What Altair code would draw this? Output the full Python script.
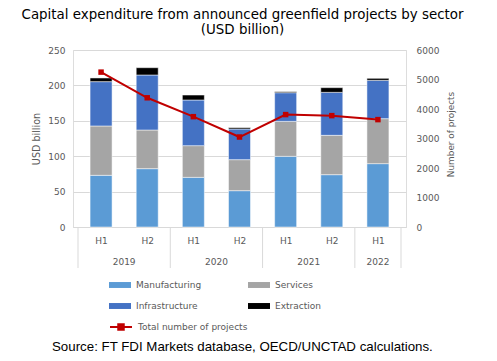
import json
import altair as alt
import numpy as np
import pandas as pd

# ---- data ----
years = ["2019", "2019", "2020", "2020", "2021", "2021", "2022"]
halves = ["H1", "H2", "H1", "H2", "H1", "H2", "H1"]
sectors = ["Manufacturing", "Services", "Infrastructure", "Extraction"]
manufacturing = [73.0, 82.4, 70.1, 51.3, 99.8, 73.9, 89.5]
services = [69.7, 54.6, 44.8, 43.8, 49.4, 55.6, 63.5]
infrastructure = [62.6, 77.7, 64.5, 43.3, 40.5, 60.7, 54.2]
extraction = [5.2, 10.3, 7.0, 1.9, 1.4, 6.6, 2.8]
projects = [5250, 4380, 3740, 3050, 3810, 3775, 3640]
line_name = ["Total number of projects"]
title_lines = ["Capital expenditure from announced greenfield projects by sector", "(USD billion)"]
source_note = ["Source: FT FDI Markets database, OECD/UNCTAD calculations."]
left_ticks = [0, 50, 100, 150, 200, 250]
right_ticks = [0, 1000, 2000, 3000, 4000, 5000, 6000]

sector_colors = ["#5B9BD5", "#A5A5A5", "#4472C4", "#000000"]
line_color = "#C00000"
grid_color = "#D9D9D9"
label_color = "#595959"
FONT = "DejaVu Sans"

# ---- tables ----
idx = list(range(len(years)))
rows = []
for k, (s, vals) in enumerate(zip(sectors, [manufacturing, services, infrastructure, extraction])):
    for i, v in zip(idx, vals):
        rows.append({"idx": i, "sector": s, "order": k, "value": v})
bars_df = pd.DataFrame(rows)
line_df = pd.DataFrame({"idx": idx, "projects": projects, "series": line_name * len(idx)})

year_names = list(dict.fromkeys(years))
year_pos = [[i for i, y in zip(idx, years) if y == yn] for yn in year_names]
year_df = pd.DataFrame({"year": year_names, "mid": [float(np.mean(p)) for p in year_pos]})
bounds = sorted(set([min(p) - 0.5 for p in year_pos] + [max(p) + 0.5 for p in year_pos]))
bound_df = pd.DataFrame({"b": bounds})
source_df = pd.DataFrame({"t": source_note})

xscale = alt.Scale(domain=[-0.5, len(idx) - 0.5], nice=False, zero=False)
label_expr = json.dumps(halves) + "[datum.value]"

bars = alt.Chart(bars_df).mark_bar(size=22, stroke="white", strokeWidth=0.5).encode(
    x=alt.X("idx:Q", scale=xscale, title=None,
            axis=alt.Axis(values=idx, labelExpr=label_expr, grid=False, ticks=False,
                          domain=True, domainColor=grid_color, labelPadding=9,
                          labelFontSize=9, labelColor=label_color, labelFont=FONT,
                          labelOverlap=False)),
    y=alt.Y("value:Q", stack="zero", scale=alt.Scale(domain=[0, 250], nice=False),
            axis=alt.Axis(values=left_ticks, title="USD billion", grid=True, gridColor=grid_color,
                          domain=False, ticks=False, labelPadding=8, labelFontSize=9,
                          labelColor=label_color, titleColor=label_color, titleFontSize=9.6,
                          titleFontWeight="normal", titleFont=FONT, labelFont=FONT, titlePadding=6)),
    color=alt.Color("sector:N", scale=alt.Scale(domain=sectors, range=sector_colors),
                    legend=alt.Legend(orient="none", legendX=36, legendY=224, title=None, columns=2,
                                      direction="horizontal",
                                      columnPadding=46, rowPadding=5,
                                      symbolType="M-1,-0.27H1V0.27H-1Z", symbolSize=484,
                                      symbolStrokeWidth=0, labelFontSize=9, labelColor=label_color,
                                      labelFont=FONT, labelOffset=5, labelLimit=300)),
    order=alt.Order("order:Q"),
)

years_text = alt.Chart(year_df).mark_text(baseline="middle", fontSize=9, color=label_color, font=FONT).encode(
    x=alt.X("mid:Q", scale=xscale, title=None),
    y=alt.value(212),
    text="year:N",
)

seps = alt.Chart(bound_df).mark_rule(color=grid_color, strokeWidth=1).encode(
    x=alt.X("b:Q", scale=xscale, title=None),
    y=alt.value(177),
    y2=alt.value(218),
)

source = alt.Chart(source_df).mark_text(align="left", baseline="middle", fontSize=13.3,
                                         font="Liberation Sans", color="#000000").encode(
    x=alt.value(-21),
    y=alt.value(297),
    text="t:N",
)

line = alt.Chart(line_df).mark_line(
    strokeWidth=2,
    point=alt.OverlayMarkDef(shape="square", size=30, filled=True),
).encode(
    x=alt.X("idx:Q", scale=xscale, title=None),
    y=alt.Y("projects:Q", scale=alt.Scale(domain=[0, 6000], nice=False),
            axis=alt.Axis(values=right_ticks, format="d", title="Number of projects", orient="right",
                          grid=False, domain=False, ticks=False, labelPadding=10, labelFontSize=9,
                          labelColor=label_color, titleColor=label_color, titleFontSize=8.9,
                          titleAngle=270, titleBaseline="middle", titleAlign="center",
                          titleX=44, titleY=84, titleFontWeight="normal", titleFont=FONT,
                          labelFont=FONT)),
    color=alt.Color("series:N", scale=alt.Scale(range=[line_color]),
                    legend=alt.Legend(orient="none", legendX=36, legendY=265, title=None,
                                      symbolType="M-1,0H1M-0.25,-0.25H0.25V0.25H-0.25Z",
                                      symbolSize=484, symbolStrokeWidth=2,
                                      symbolFillColor=line_color, symbolStrokeColor=line_color,
                                      labelFontSize=9, labelColor=label_color, labelFont=FONT,
                                      labelOffset=5, labelLimit=300)),
)

chart = alt.layer(bars, seps, years_text, source, line).resolve_scale(
    y="independent", color="independent"
).properties(
    width=333,
    height=177,
    title=alt.Title(title_lines, fontSize=13.4, font=FONT, fontWeight="normal", color="#000000",
                    anchor="middle", frame="group", offset=10, lineHeight=15, dx=3),
    autosize=alt.AutoSizeParams(type="none"),
    padding={"left": 65, "top": 42, "right": 83, "bottom": 126},
).configure_view(stroke=None).configure(font=FONT)

chart.save("out.html", embed_options={"renderer": "svg", "actions": False})
